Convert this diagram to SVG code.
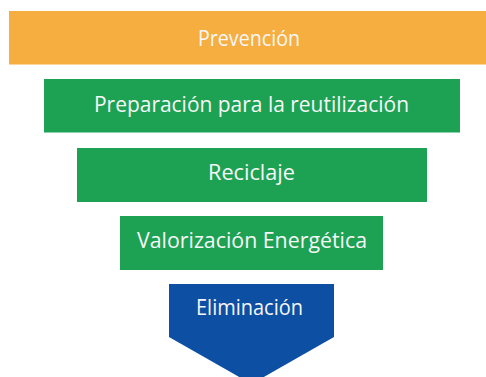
<svg xmlns="http://www.w3.org/2000/svg" width="486" height="377" viewBox="0 0 486 377">
<style>
.lbl{font-family:"Open Sans","Noto Sans","DejaVu Sans",sans-serif;font-size:21px;fill:#f7f7f7;text-anchor:middle}
.g{fill:#1da254}
</style>
<rect width="486" height="377" fill="#ffffff"/>
<g id="prevencion"><rect x="9" y="11" width="477" height="53.5" fill="#f6ae41"/><text class="lbl" x="249" y="45.5" textLength="102" lengthAdjust="spacingAndGlyphs">Prevención</text></g>
<g id="preparacion"><rect class="g" x="44" y="79" width="416" height="53.5"/><text class="lbl" x="251.5" y="111.8" textLength="315" lengthAdjust="spacingAndGlyphs">Preparación para la reutilización</text></g>
<g id="reciclaje"><rect class="g" x="77" y="148" width="350" height="54"/><text class="lbl" x="251.5" y="180" textLength="87" lengthAdjust="spacingAndGlyphs">Reciclaje</text></g>
<g id="valorizacion"><rect class="g" x="120" y="216" width="263" height="54"/><text class="lbl" x="252" y="248" textLength="230" lengthAdjust="spacingAndGlyphs">Valorización Energética</text></g>
<g id="eliminacion"><polygon points="169,284 334,284 334,337 251.5,384 169,337" fill="#0d4fa3"/><text class="lbl" x="249.5" y="315" textLength="107" lengthAdjust="spacingAndGlyphs">Eliminación</text></g>
<g id="connectors"></g>
</svg>
